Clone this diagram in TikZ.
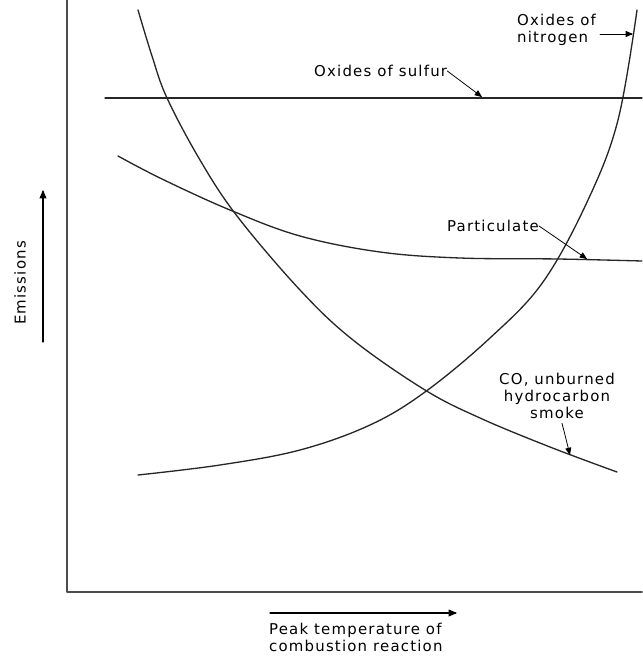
\documentclass[tikz,border=0pt]{standalone}
\usepackage{fontspec}
\setmainfont{DejaVu Sans}[LetterSpace=8]
\usepackage{tikz}
\usetikzlibrary{arrows}

\tikzset{
  curve/.style={line width=1.5pt,black!85},
  axis/.style={line width=2pt,black!70},
  leader/.style={->,line width=0.9pt},
  lbl/.style={inner sep=0pt,font=\fontsize{17}{19.5}\selectfont}
}

\begin{document}
\begin{tikzpicture}[line cap=round,line join=round,>=triangle 45,x=0.04cm,y=-0.04cm]
        \useasboundingbox (0,0) rectangle (642,662);
        % axes
        \draw [axis] (67,0) -- (67,592) -- (642,592);
        % oxides of sulfur
        \draw [curve] (105,98) -- (642,98);
        % particulate
        \draw [curve] plot [smooth,tension=0.6] coordinates {(118,156) (162,179) (230,210) (300,236) (380,252) (460,258) (558,259) (642,261)};
        % CO, hydrocarbon, smoke
        \draw [curve] plot [smooth,tension=0.6] coordinates {(138,10) (152,56) (167,98) (200,160) (237,216) (300,290) (353,340) (425,390) (480,418) (550,447) (617,472)};
        % oxides of nitrogen
        \draw [curve] plot [smooth,tension=0.6] coordinates {(138,475) (220,465) (300,450) (370,425) (425,392) (490,338) (543,282) (588,200) (618,120) (637,10)};
        % labels
        \node [lbl,anchor=north west,align=left] (t_nox) at (517,14) {Oxides of\\nitrogen};
        \node [lbl,anchor=north west] (t_sox) at (314,65) {Oxides of sulfur};
        \node [lbl,anchor=north west] (t_part) at (447,220) {Particulate};
        \node [lbl,anchor=north,align=center] (t_co) at (557,373) {CO, unburned\\hydrocarbon\\smoke};
        \node [lbl,anchor=south,rotate=90] (t_emis) at (26,283) {Emissions};
        \node [lbl,anchor=north west,align=left] (t_temp) at (269,623) {Peak temperature of\\combustion reaction};
        % leader targets
        \coordinate (c_nox) at (633,34);
        \coordinate (c_sox) at (482,97);
        \coordinate (c_part) at (587,259);
        \coordinate (c_co) at (570,455);
        \draw [leader] (t_nox.east |- c_nox) ++(4,0) -- (c_nox);
        \draw [leader] (t_sox.east) -- (c_sox);
        \draw [leader] (t_part.east) -- (c_part);
        \draw [leader] (t_co.south) ++(5,4) -- (c_co);
        % direction arrows
        \coordinate (e_bot) at (43,342);
        \coordinate (e_top) at (43,190);
        \coordinate (p_left) at (270,613);
        \coordinate (p_right) at (457,613);
        \draw [->,line width=1.2pt] (e_bot) -- (e_top);
        \draw [->,line width=1.2pt] (p_left) -- (p_right);
\end{tikzpicture}
\end{document}
